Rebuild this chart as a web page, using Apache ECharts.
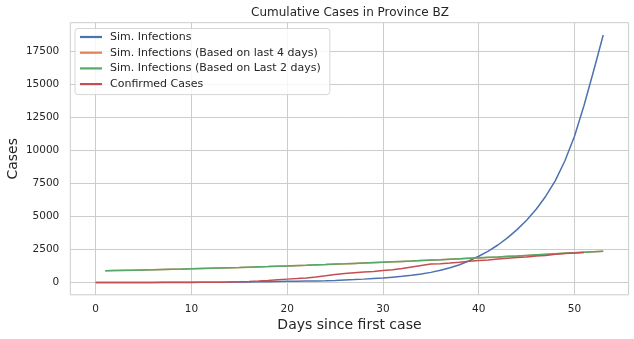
<!DOCTYPE html>
<html>
<head>
<meta charset="utf-8">
<script src="https://cdn.jsdelivr.net/npm/echarts@6/dist/echarts.min.js"></script>
<style>
html, body { margin: 0; padding: 0; background: #fff; }
#main { width: 634px; height: 339px; }
</style>
</head>
<body>
<div id="main"></div>
<script>
// values, one per day
var simDays = [0,1,2,3,4,5,6,7,8,9,10,11,12,13,14,15,16,17,18,19,20,21,22,23,24,25,26,
  27,28,29,30,31,32,33,34,35,36,37,38,39,40,41,42,43,44,45,46,47,48,49,50,51,52,53];
var simInfections = [1,1,2,2,3,3,4,5,6,8,10,12,15,19,24,30,37,45,55,67,80,90,100,112,125,150,185,
  215,250,290,330,395,460,540,640,760,920,1110,1340,1640,1980,2370,2830,3370,3990,4700,5530,6520,7700,9200,11050,13400,16000,18700];

var projDays = [1,2,3,4,5,6,7,8,9,10,11,12,13,14,15,16,17,18,19,20,21,22,23,24,25,26,
  27,28,29,30,31,32,33,34,35,36,37,38,39,40,41,42,43,44,45,46,47,48,49,50,51,52,53];
var simLast4 = [880,895,910,925,940,955,975,990,1005,1025,1045,1065,1085,1105,1125,1150,1175,1195,1220,1245,1270,1295,1325,1350,1380,1405,
  1435,1465,1495,1525,1555,1585,1615,1650,1685,1715,1750,1785,1820,1855,1890,1925,1965,2000,2040,2080,2120,2160,2200,2240,2280,2315,2350];
var simLast2 = [885,900,915,930,945,960,980,995,1010,1030,1050,1070,1090,1110,1130,1155,1180,1200,1225,1250,1275,1300,1330,1355,1385,1410,
  1440,1470,1500,1530,1560,1590,1620,1655,1690,1720,1755,1790,1825,1860,1895,1930,1970,2005,2045,2085,2125,2165,2205,2245,2285,2320,2355];

var confDays = [0,1,2,3,4,5,6,7,8,9,10,11,12,13,14,15,16,17,18,19,20,21,22,23,24,25,26,
  27,28,29,30,31,32,33,34,35,36,37,38,39,40,41,42,43,44,45,46,47,48,49,50,51];
var confirmed = [1,1,1,1,1,1,1,1,1,2,3,5,8,13,25,45,75,110,150,200,250,290,340,410,500,600,680,
  730,780,830,900,960,1050,1170,1280,1390,1420,1470,1530,1600,1660,1700,1770,1830,1880,1930,1990,2030,2130,2180,2230,2260];

var xTicks = [0,10,20,30,40,50];
var yTicks = [0,2500,5000,7500,10000,12500,15000,17500];

function pairs(xs, ys){
  var out = [];
  for (var i = 0; i < xs.length; i++) out.push([xs[i], ys[i]]);
  return out;
}

var txt = '#262626';
var gridCol = '#cccccc';
var font = 'DejaVu Sans';

var chart = echarts.init(document.getElementById('main'));

var option = {
  animation: false,
  backgroundColor: '#fff',
  textStyle: { fontFamily: font },
  title: {
    text: 'Cumulative Cases in Province BZ',
    left: 350, top: 7, textAlign: 'center', padding: 0,
    textStyle: { fontFamily: font, fontSize: 12, fontWeight: 'normal', color: txt }
  },
  grid: {
    left: 70.3, right: 5.4, top: 22.7, bottom: 44.2,
    outerBoundsMode: 'none', containLabel: false,
    show: true, borderColor: gridCol, borderWidth: 1, backgroundColor: 'transparent'
  },
  legend: {
    left: 75, top: 28.5,
    orient: 'vertical',
    icon: 'rect', itemWidth: 22, itemHeight: 2.2, itemGap: 2.7,
    padding: [2, 9, 4, 5],
    backgroundColor: 'rgba(255,255,255,0.8)',
    borderColor: '#d6d6d6', borderWidth: 1, borderRadius: 3,
    textStyle: { fontFamily: font, fontSize: 11, color: txt, lineHeight: 13, padding: [0, 0, 0, 3] },
    data: ['Sim. Infections', 'Sim. Infections (Based on last 4 days)', 'Sim. Infections (Based on Last 2 days)', 'Confirmed Cases']
  },
  xAxis: {
    type: 'value', min: -2.65, max: 55.65,
    name: 'Days since first case', nameLocation: 'middle', nameGap: 24, nameMoveOverlap: false,
    nameTextStyle: { fontFamily: font, fontSize: 14, color: txt },
    axisLine: { show: false },
    axisTick: { show: false, customValues: xTicks },
    axisLabel: { customValues: xTicks, margin: 9, fontFamily: font, fontSize: 10.5, color: txt },
    splitLine: { show: true, lineStyle: { color: gridCol, width: 1 } }
  },
  yAxis: {
    type: 'value', min: -935, max: 19635,
    name: 'Cases', nameLocation: 'middle', nameGap: 50, nameMoveOverlap: false,
    nameTextStyle: { fontFamily: font, fontSize: 14, color: txt },
    axisLine: { show: false },
    axisTick: { show: false, customValues: yTicks },
    axisLabel: { customValues: yTicks, margin: 11, fontFamily: font, fontSize: 10.5, color: txt,
      formatter: function(v){ return String(v); } },
    splitLine: { show: true, lineStyle: { color: gridCol, width: 1 } }
  },
  series: [
    { name: 'Sim. Infections', type: 'line', showSymbol: false, color: '#4C72B0',
      lineStyle: { width: 1.5 }, data: pairs(simDays, simInfections) },
    { name: 'Sim. Infections (Based on last 4 days)', type: 'line', showSymbol: false, color: '#DD8452',
      lineStyle: { width: 1.5 }, data: pairs(projDays, simLast4) },
    { name: 'Sim. Infections (Based on Last 2 days)', type: 'line', showSymbol: false, color: '#55A868',
      lineStyle: { width: 1.5 }, data: pairs(projDays, simLast2) },
    { name: 'Confirmed Cases', type: 'line', showSymbol: false, color: '#C44E52',
      lineStyle: { width: 1.5 }, data: pairs(confDays, confirmed) }
  ]
};

chart.setOption(option);
</script>
</body>
</html>
